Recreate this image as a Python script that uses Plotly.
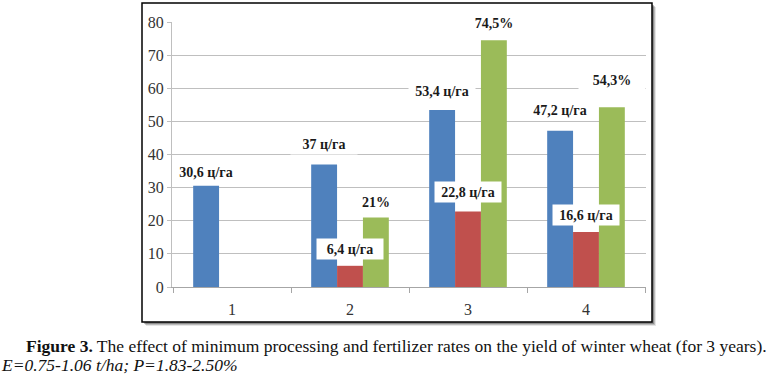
import plotly.graph_objects as go

categories = ["1", "2", "3", "4"]
blue_vals = [30.6, 37.0, 53.4, 47.2]
red_vals = [None, 6.4, 22.8, 16.6]
green_vals = [None, 21.0, 74.5, 54.3]

# label anchor heights (in axis units) as placed in the original chart
blue_label_y = [34.7, 43.2, 59.2, 53.5]
red_label_y = [None, 11.5, 28.7, 21.8]
green_label_y = [None, 25.7, 79.7, 62.5]

y_ticks = [0, 10, 20, 30, 40, 50, 60, 70, 80]

caption1 = "<b>Figure 3.</b> The effect of minimum processing and fertilizer rates on the yield of winter wheat (for 3 years)."
caption2 = "<i>E=0.75-1.06 t/ha; P=1.83-2.50%</i>"

BLUE, RED, GREEN = "#4F81BD", "#C0504D", "#9BBB59"


def fmt(v, unit):
    s = f"{v:.1f}".replace(".", ",")
    if s.endswith(",0"):
        s = s[:-2]
    return s + unit


fig = go.Figure()
for vals, col in [(blue_vals, BLUE), (red_vals, RED), (green_vals, GREEN)]:
    fig.add_trace(go.Bar(x=categories, y=vals, marker=dict(color=col, line=dict(width=0)),
                         hoverinfo="skip", showlegend=False))

W, H = 777, 377
L, R, T, B = 172, 131, 22, 90
pw, ph = W - L - R, H - T - B

annotations = []
slot_px = 26
for vals, ys, unit, shift in [(blue_vals, blue_label_y, " ц/га", -slot_px),
                              (red_vals, red_label_y, " ц/га", 0),
                              (green_vals, green_label_y, "%", slot_px)]:
    for i, (v, yy) in enumerate(zip(vals, ys)):
        if v is None:
            continue
        annotations.append(dict(
            x=i, y=yy, xref="x", yref="y", xshift=shift, showarrow=False,
            text=f"<b>{fmt(v, unit)}</b>", bgcolor="white", width=62, height=16,
            borderpad=2, font=dict(family="Liberation Serif", size=14, color="#1a1a1a")))


def px_x(p):
    return (p - L) / pw


def px_y(p):
    return (H - B - p) / ph


annotations.append(dict(x=px_x(25), y=px_y(346), xref="paper", yref="paper", xanchor="left",
                        yanchor="middle", showarrow=False, text=caption1, borderpad=0,
                        font=dict(family="Liberation Serif", size=17.5, color="#111111")))
annotations.append(dict(x=px_x(0), y=px_y(365), xref="paper", yref="paper", xanchor="left",
                        yanchor="middle", showarrow=False, text=caption2, borderpad=0,
                        font=dict(family="Liberation Serif", size=17.5, color="#111111")))

shapes = []
# drop shadow
for off, a in [(4, 0.10), (3, 0.18), (2, 0.25)]:
    shapes.append(dict(type="rect", xref="paper", yref="paper", layer="below",
                       x0=px_x(142 + off), x1=px_x(652 + off), y0=px_y(322 + off), y1=px_y(3 + off),
                       line=dict(width=0), fillcolor=f"rgba(0,0,0,{a})"))
shapes.append(dict(type="rect", xref="paper", yref="paper", layer="below",
                   x0=px_x(142), x1=px_x(652), y0=px_y(322), y1=px_y(3),
                   line=dict(width=1.5, color="black"), fillcolor="white"))

fig.update_layout(
    width=W, height=H, margin=dict(l=L, r=R, t=T, b=B),
    paper_bgcolor="white", plot_bgcolor="rgba(0,0,0,0)",
    barmode="group", bargap=0.342, bargroupgap=0,
    annotations=annotations, shapes=shapes,
    xaxis=dict(type="category", tickson="boundaries", ticks="outside", ticklen=5,
               tickcolor="#A6A6A6", showline=True, linecolor="#A6A6A6", linewidth=1,
               showgrid=False, tickfont=dict(family="Liberation Serif", size=16, color="#333333"),
               ticklabelstandoff=8),
    yaxis=dict(range=[0, 80], tickvals=y_ticks, ticks="outside", ticklen=4, tickcolor="#BFBFBF",
               showline=True, linecolor="#BFBFBF", linewidth=1, showgrid=True,
               gridcolor="#BFBFBF", gridwidth=1, zeroline=False,
               tickfont=dict(family="Liberation Serif", size=16, color="#333333")),
)

fig.write_html("out.html", config={"displayModeBar": False},
               post_script="document.body.style.margin='0';")
